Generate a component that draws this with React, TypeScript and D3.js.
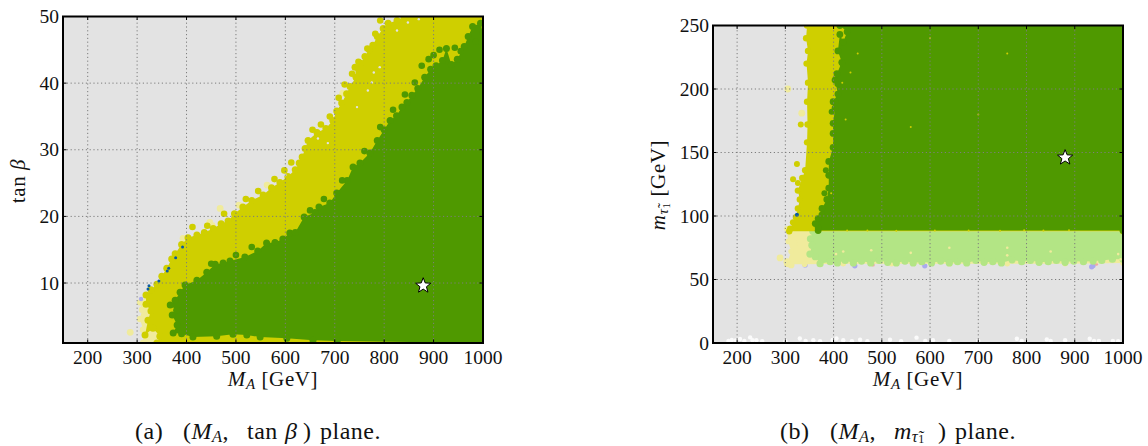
import React from "react";
import * as d3 from "d3";

type P = [number, number];

// ---- panel (a): MA vs tan beta
const aXTicks = [200, 300, 400, 500, 600, 700, 800, 900, 1000];
const aYTicks = [10, 20, 30, 40, 50];
const aYellowEdge: P[] = [[340, 1], [346, 2], [332, 3.2], [316, 2.2], [322, 4.4], [328, 5.8], [318, 6.8], [318, 8.2], [328, 9], [340, 9.8], [350, 11], [360, 12.2], [370, 13.6], [377, 14.4], [390, 15.8], [403, 16.8], [421, 17.2], [436, 17.6], [454, 18.2], [470, 18.9], [484, 19.3], [497, 20.4], [514, 21.4], [532, 22.4], [555, 23.2], [572, 24.3], [589, 25.1], [605, 26], [620, 27], [628, 28], [634, 28.9], [640, 30.2], [646, 31.4], [664, 32.6], [682, 33.2], [696, 34.4], [704, 35.8], [714, 37], [724, 38.4], [731, 39.5], [743, 40.9], [741, 42.4], [752, 43], [761, 44], [770, 45], [777, 45.7], [786, 47], [798, 48.2], [808, 49], [826, 49.4], [840, 50], [1000, 50], [1000, 1]];
const aYellowStray: P[] = [[412, 18.4], [442, 18.6], [476, 20.4], [520, 22.6], [545, 23.8], [578, 25.6], [598, 26.9], [612, 28.1], [655, 33], [672, 33.8], [690, 35], [708, 37.8], [720, 39.8], [735, 41.4], [748, 43.2], [766, 45.2], [782, 47.4], [792, 49.4]];
const aPaleEdge: P[] = [[345, 1], [312, 1], [312, 3], [306, 4.6], [310, 6], [306, 7.1], [320, 8], [335, 7]];
const aPaleDots: P[] = [[286, 2.6], [563, 24.7], [468, 21.2], [506, 21.7], [447, 19.1], [452, 18.6], [393, 16.7], [716, 38.5]];
const aGreenEdge: P[] = [[705, 1.3], [656, 1.4], [603, 1.7], [549, 1.9], [522, 2.2], [494, 2.3], [461, 2], [413, 1.9], [390, 2.4], [373, 2.5], [381, 3.7], [371, 5.2], [380, 5.9], [367, 6.7], [377, 7.4], [387, 8.6], [397, 9.7], [421, 10.4], [441, 11.6], [458, 12.8], [474, 13], [488, 13.3], [518, 13.9], [544, 14.8], [562, 16], [579, 16.1], [595, 16.6], [609, 17.5], [620, 17.6], [638, 19.9], [660, 20.6], [668, 21.4], [690, 22], [704, 23.5], [725, 25.4], [737, 27.4], [751, 28], [771, 29.5], [786, 31.4], [800, 33], [812, 34.4], [825, 35.1], [836, 36.4], [846, 37.1], [856, 38.2], [868, 39.2], [882, 40.9], [894, 42.1], [905, 42.6], [918, 43.4], [926, 45.2], [936, 42.8], [948, 43.6], [962, 45.5], [970, 47], [979, 48.5], [995, 49], [1000, 47.5], [1000, 1]];
const aGreenStray: P[] = [[450, 12.9], [500, 14.2], [532, 15.4], [650, 20.9], [678, 22.6], [715, 25.4], [760, 29.8], [792, 33.4], [818, 36], [842, 38.3], [862, 40.1], [876, 42.6], [890, 43.6], [900, 44.2], [912, 45], [943, 45.3], [955, 44.8], [985, 46.2]];
const aBlueDots: P[] = [[322, 9.1], [324, 9.6], [344, 10.3], [361, 11.8], [364, 12.2], [378, 13.8], [392, 15.4]];
const aLavenderDots: P[] = [[308, 7.6]];
const aGapSpecks: P[] = [[826, 47.9], [848, 49.1], [779, 41.6], [767, 38.9], [745, 36.4], [791, 42.4], [775, 40.1], [666, 31.7], [686, 31], [600, 26.2], [870, 49.6]];
const aStar: P = [879, 9.6];

// ---- panel (b): MA vs stau mass
const bXTicks = [200, 300, 400, 500, 600, 700, 800, 900, 1000];
const bYTicks = [0, 50, 100, 150, 200, 250];
const bYellowEdge: P[] = [[345, 250], [343, 240], [347, 230], [344, 220], [347, 205], [345, 190], [346, 172], [345, 158], [341, 136], [335, 130], [326, 120], [330, 113], [326, 106], [322, 99], [316, 95], [310, 90], [308, 88], [1000, 88], [1000, 250]];
const bPaleEdge: P[] = [[303, 90], [306, 80], [312, 72], [303, 62], [340, 62], [420, 62.5], [520, 62.5], [640, 62.5], [760, 62.5], [880, 62.5], [1000, 63], [1000, 88], [340, 90]];
const bPaleDots: P[] = [[334, 181], [305, 200], [289, 67], [303, 64], [312, 61.5]];
const bYellowDots: P[] = [[332, 172], [324, 141], [316, 129], [326, 126]];
const bLightEdge: P[] = [[357, 88], [352, 82], [355, 77], [351, 70], [362, 68], [372, 62.5], [393, 64], [408, 63], [424, 65], [441, 63], [458, 64.5], [477, 63], [495, 65], [512, 63.5], [530, 63], [548, 64.5], [565, 63], [583, 64], [603, 63], [622, 64.5], [640, 63], [657, 64], [676, 63], [695, 65], [712, 63.5], [730, 64], [748, 63], [770, 65.5], [790, 64], [808, 65], [826, 63.5], [845, 64], [862, 65], [880, 63.5], [898, 64.5], [918, 64], [938, 64.5], [956, 65], [978, 66], [1000, 66], [1000, 88]];
const bGreenEdge: P[] = [[368, 88.5], [368, 91], [362, 94], [368, 98], [376, 106], [386, 113], [390, 122], [390, 132], [390, 143], [399, 154], [399, 165], [399, 173], [403, 185], [399, 190], [409, 196], [403, 207], [407, 212], [417, 221], [409, 230], [413, 243], [420, 237], [428, 245], [413, 250], [1000, 250], [1000, 88.5]];
const bGreenDots: P[] = [[418, 220], [405, 190], [408, 204], [375, 101], [396, 182], [384, 136], [381, 118]];
const bBlueDots: P[] = [[324, 101]];
const bLavenderDots: P[] = [[341, 61.5], [444, 60.8], [589, 60.8], [935, 60], [938, 61]];
const bPinkDots: P[] = [[482, 61.5], [945, 62]];
const bYellowSpecks: P[] = [[428, 88.5], [470, 88.6], [530, 88.4], [610, 88.6], [680, 88.5], [745, 88.4], [795, 88.7], [835, 88.6], [888, 88.8], [450, 228], [600, 240], [760, 228], [418, 205], [425, 176], [435, 213], [700, 180], [560, 170], [395, 118]];
const bLightGaps: P[] = [[322, 82], [325, 78], [405, 70], [420, 72], [478, 73], [560, 71], [640, 75], [760, 69], [850, 72], [990, 70], [995, 66], [760, 75]];
const bWhiteDots: P[] = [[182, 1.6], [189, 2.4], [197, 2], [206, 3.2], [215, 1.6], [227, 4.4], [232, 2.2], [240, 2.2], [252, 1.5], [300, 1.4], [330, 3.5], [342, 1.6], [358, 2.2], [372, 1.4], [398, 2.4], [406, 3.6], [420, 2.2], [438, 1.4], [455, 2.6], [470, 1.4], [517, 2.6], [540, 1.4], [572, 4.2], [590, 1.6], [606, 2.2], [640, 1.6], [700, 1.6], [780, 3.4], [790, 1.6], [842, 2.8], [850, 1.6], [880, 2.2], [931, 3.4], [940, 1.6], [950, 1.6], [979, 1.6], [990, 1.4]];
const bStar: P = [880, 146];

const BG = "#e3e3e3";
const YELLOW = "#cfcf00";
const GREEN = "#4f9900";
const PALE = "#f0eb9c";
const LIGHT = "#b3e585";
const BLUE = "#0a5aa0";
const LAV = "#aaaaee";
const PINK = "#f0a8a0";
const SERIF = "'Liberation Serif', serif";

type S = (v: number) => number;

function Blob({ pts, color, r, x, y, poly = true }: { pts: P[]; color: string; r: number; x: S; y: S; poly?: boolean }) {
  const line = d3.line<P>().x((d) => x(d[0])).y((d) => y(d[1]));
  return (
    <g>
      {poly && <path d={line(pts) + "Z"} fill={color} />}
      {pts.map((d, i) => (
        <circle key={i} cx={x(d[0])} cy={y(d[1])} r={r} fill={color} />
      ))}
    </g>
  );
}

function Star({ cx, cy }: { cx: number; cy: number }) {
  const pts = d3.range(10).map((i) => {
    const a = (i * Math.PI) / 5 - Math.PI / 2;
    const r = i % 2 === 0 ? 8 : 3.4;
    return `${cx + r * Math.cos(a)},${cy + r * Math.sin(a)}`;
  });
  return <polygon points={pts.join(" ")} fill="#fff" stroke="#000" strokeWidth={1} />;
}

function Frame({ id, x, y, xTicks, yTicks, children }: { id: string; x: d3.ScaleLinear<number, number>; y: d3.ScaleLinear<number, number>; xTicks: number[]; yTicks: number[]; children: React.ReactNode }) {
  const [x0, x1] = x.range();
  const [y0, y1] = y.range();
  return (
    <g>
      <clipPath id={id}>
        <rect x={x0} y={y1} width={x1 - x0} height={y0 - y1} />
      </clipPath>
      <rect x={x0} y={y1} width={x1 - x0} height={y0 - y1} fill={BG} />
      <g clipPath={`url(#${id})`}>{children}</g>
      {xTicks.map((t) => (
        <line key={t} x1={x(t)} x2={x(t)} y1={y0} y2={y1} stroke="#7d7d7d" strokeWidth={1} strokeDasharray="1.2 2.6" />
      ))}
      {yTicks.map((t) => (
        <line key={t} x1={x0} x2={x1} y1={y(t)} y2={y(t)} stroke="#7d7d7d" strokeWidth={1} strokeDasharray="1.2 2.6" />
      ))}
      {xTicks.map((t) => (
        <g key={t}>
          <line x1={x(t)} x2={x(t)} y1={y0} y2={y0 - 3.5} stroke="#000" strokeWidth={1} />
          <line x1={x(t)} x2={x(t)} y1={y1} y2={y1 + 3.5} stroke="#000" strokeWidth={1} />
          <text x={x(t)} y={y0 + 21} fontFamily={SERIF} fontSize={19.5} fill="#111" textAnchor="middle">{t}</text>
        </g>
      ))}
      {yTicks.map((t) => (
        <g key={t}>
          <line x1={x0} x2={x0 + 3.5} y1={y(t)} y2={y(t)} stroke="#000" strokeWidth={1} />
          <line x1={x1} x2={x1 - 3.5} y1={y(t)} y2={y(t)} stroke="#000" strokeWidth={1} />
          <text x={x0 - 4} y={y(t) + 6.5} fontFamily={SERIF} fontSize={19.5} fill="#111" textAnchor="end">{t}</text>
        </g>
      ))}
      <rect x={x0} y={y1} width={x1 - x0} height={y0 - y1} fill="none" stroke="#000" strokeWidth={2} />
    </g>
  );
}

function AxisX({ cx }: { cx: number }) {
  return (
    <text x={cx} y={386} fontFamily={SERIF} fontSize={21} letterSpacing={0.6} fill="#111" textAnchor="middle">
      <tspan fontStyle="italic">M</tspan>
      <tspan fontStyle="italic" fontSize={15} dy={3}>A</tspan>
      <tspan dy={-3}>{"\u00a0[GeV]"}</tspan>
    </text>
  );
}

export default function App() {
  const xa = d3.scaleLinear().domain([150, 1000]).range([63, 483]);
  const ya = d3.scaleLinear().domain([1, 50]).range([343, 16.5]);
  const xb = d3.scaleLinear().domain([150, 1000]).range([713, 1123]);
  const yb = d3.scaleLinear().domain([0, 250]).range([343, 25.5]);
  const cap = { fontFamily: SERIF, fontSize: 24, letterSpacing: 0.5, fill: "#111", y: 439 };
  return (
    <svg width={1148} height={446} style={{ position: "absolute", left: 0, top: 0, display: "block" }} xmlns="http://www.w3.org/2000/svg">
      <rect width={1148} height={446} fill="#fff" />
      <Frame id="clipA" x={xa} y={ya} xTicks={aXTicks} yTicks={aYTicks}>
        <Blob pts={aPaleDots} color={PALE} r={3.4} x={xa} y={ya} poly={false} />
        <Blob pts={aPaleEdge} color={PALE} r={3.2} x={xa} y={ya} />
        <Blob pts={aLavenderDots} color={LAV} r={2.2} x={xa} y={ya} poly={false} />
        <Blob pts={aYellowEdge} color={YELLOW} r={3.5} x={xa} y={ya} />
        <Blob pts={aYellowStray} color={YELLOW} r={3.3} x={xa} y={ya} poly={false} />
        <Blob pts={aBlueDots} color={BLUE} r={1.5} x={xa} y={ya} poly={false} />
        <Blob pts={aGapSpecks} color={BG} r={1.2} x={xa} y={ya} poly={false} />
        <Blob pts={aGreenEdge} color={GREEN} r={3.5} x={xa} y={ya} />
        <Blob pts={aGreenStray} color={GREEN} r={3.3} x={xa} y={ya} poly={false} />
      </Frame>
      <Star cx={xa(aStar[0])} cy={ya(aStar[1])} />

      <Frame id="clipB" x={xb} y={yb} xTicks={bXTicks} yTicks={bYTicks}>
        <Blob pts={bWhiteDots} color="#fbfbfb" r={2.2} x={xb} y={yb} poly={false} />
        <Blob pts={bLavenderDots} color={LAV} r={2.6} x={xb} y={yb} poly={false} />
        <Blob pts={bPinkDots} color={PINK} r={1.6} x={xb} y={yb} poly={false} />
        <Blob pts={bPaleEdge} color={PALE} r={2.8} x={xb} y={yb} />
        <Blob pts={bPaleDots} color={PALE} r={3.4} x={xb} y={yb} poly={false} />
        <Blob pts={bLightEdge} color={LIGHT} r={3.6} x={xb} y={yb} />
        <Blob pts={bLightGaps} color={PALE} r={1.3} x={xb} y={yb} poly={false} />
        <Blob pts={bYellowEdge} color={YELLOW} r={3.2} x={xb} y={yb} />
        <Blob pts={bYellowDots} color={YELLOW} r={3} x={xb} y={yb} poly={false} />
        <Blob pts={bBlueDots} color={BLUE} r={2} x={xb} y={yb} poly={false} />
        <Blob pts={bGreenEdge} color={GREEN} r={3.4} x={xb} y={yb} />
        <Blob pts={bGreenDots} color={GREEN} r={3} x={xb} y={yb} poly={false} />
        <Blob pts={bYellowSpecks} color={YELLOW} r={1} x={xb} y={yb} poly={false} />
      </Frame>
      <Star cx={xb(bStar[0])} cy={yb(bStar[1])} />

      <AxisX cx={273} />
      <AxisX cx={918} />
      <text transform="translate(25,181) rotate(-90)" fontFamily={SERIF} fontSize={21} letterSpacing={0.6} fill="#111" textAnchor="middle">
        tan <tspan fontStyle="italic">β</tspan>
      </text>
      <text transform="translate(665,185) rotate(-90)" fontFamily={SERIF} fontSize={21} letterSpacing={0.6} fill="#111" textAnchor="middle">
        <tspan fontStyle="italic">m</tspan>
        <tspan fontStyle="italic" fontSize={15} dy={3}>τ̃</tspan>
        <tspan fontSize={11} dy={2}>1</tspan>
        <tspan dy={-5}>{"\u00a0[GeV]"}</tspan>
      </text>

      <text x={135} {...cap}>(a)</text>
      <text x={183} {...cap}>
        (<tspan fontStyle="italic">M</tspan><tspan fontStyle="italic" fontSize={16.5} dy={3}>A</tspan><tspan dy={-3}>,</tspan>
      </text>
      <text x={247} {...cap}>tan</text>
      <text x={285} {...cap} fontStyle="italic">β</text>
      <text x={303} {...cap}>)</text>
      <text x={320} {...cap}>plane.</text>

      <text x={780} {...cap}>(b)</text>
      <text x={830} {...cap}>
        (<tspan fontStyle="italic">M</tspan><tspan fontStyle="italic" fontSize={16.5} dy={3}>A</tspan><tspan dy={-3}>,</tspan>
      </text>
      <text x={894} {...cap}>
        <tspan fontStyle="italic">m</tspan><tspan fontStyle="italic" fontSize={16.5} dy={3}>τ̃</tspan><tspan fontSize={12} dy={1}>1</tspan>
      </text>
      <text x={938} {...cap}>)</text>
      <text x={955} {...cap}>plane.</text>
    </svg>
  );
}
